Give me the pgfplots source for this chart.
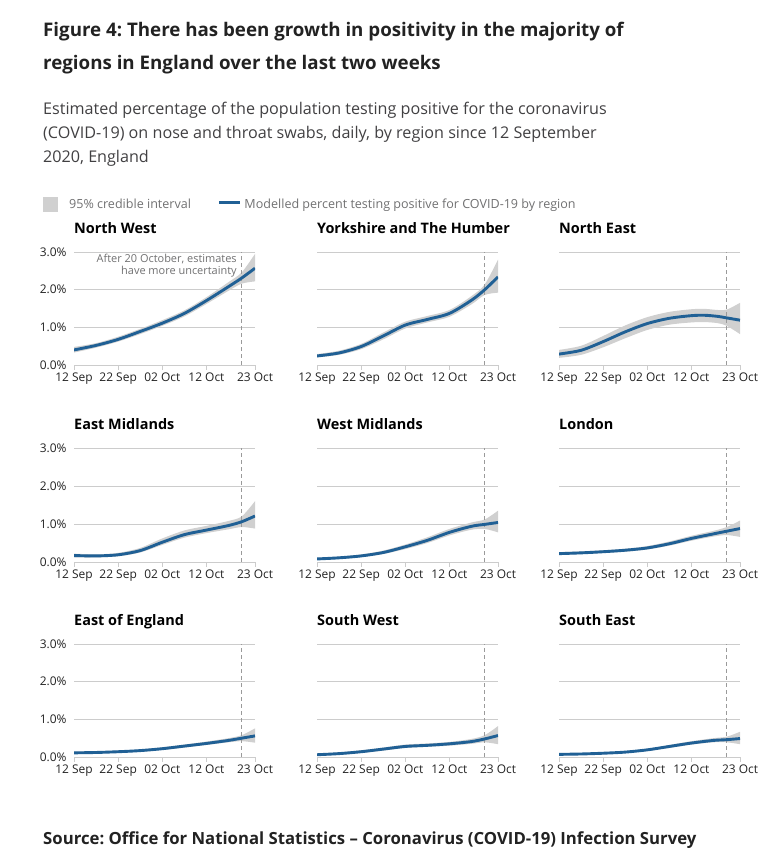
\documentclass[border=0pt]{standalone}
\usepackage{fontspec}
\setmainfont{Open Sans}
\usepackage{pgfplots}
\usepackage{pgfplotstable}
\usepgfplotslibrary{fillbetween}
\pgfplotsset{compat=1.18}
\frenchspacing
\definecolor{onsblue}{HTML}{206095}
\definecolor{bandgrey}{HTML}{D0D0D0}
\definecolor{gridgrey}{HTML}{CCCCCC}
\definecolor{dashgrey}{HTML}{9A9A9A}
\definecolor{titlec}{HTML}{222222}
\definecolor{subc}{HTML}{414042}
\definecolor{legc}{HTML}{707071}

\pgfplotstableread{
d y lo hi
0 0.40 0.33 0.48
5 0.52 0.46 0.58
10 0.68 0.62 0.75
15 0.89 0.82 0.96
20 1.11 1.04 1.19
25 1.37 1.29 1.45
30 1.71 1.62 1.80
35 2.08 1.97 2.20
38 2.31 2.16 2.46
41 2.57 2.22 2.95
}\tNW
\pgfplotstableread{
d y lo hi
0 0.24 0.20 0.29
5 0.32 0.27 0.38
10 0.49 0.42 0.56
15 0.77 0.68 0.86
20 1.06 0.97 1.15
25 1.21 1.13 1.30
30 1.37 1.28 1.46
35 1.72 1.61 1.83
38 2.00 1.86 2.14
41 2.34 1.92 2.80
}\tYH
\pgfplotstableread{
d y lo hi
0 0.29 0.19 0.40
5 0.39 0.27 0.51
10 0.62 0.47 0.77
15 0.88 0.71 1.05
20 1.10 0.93 1.27
25 1.24 1.07 1.41
30 1.31 1.13 1.48
33 1.32 1.14 1.49
36 1.29 1.11 1.46
38 1.25 1.04 1.47
41 1.19 0.82 1.65
}\tNE
\pgfplotstableread{
d y lo hi
0 0.17 0.12 0.22
5 0.16 0.12 0.20
10 0.19 0.15 0.24
15 0.30 0.25 0.37
20 0.52 0.45 0.62
25 0.72 0.64 0.83
30 0.84 0.76 0.95
35 0.96 0.86 1.08
38 1.06 0.92 1.20
41 1.21 0.88 1.60
}\tEM
\pgfplotstableread{
d y lo hi
0 0.08 0.06 0.11
5 0.11 0.08 0.14
10 0.16 0.13 0.20
15 0.25 0.21 0.30
20 0.40 0.34 0.46
25 0.57 0.50 0.65
30 0.78 0.70 0.87
35 0.94 0.85 1.04
38 0.99 0.87 1.12
41 1.04 0.78 1.35
}\tWM
\pgfplotstableread{
d y lo hi
0 0.22 0.19 0.26
5 0.24 0.21 0.28
10 0.27 0.24 0.31
15 0.31 0.27 0.35
20 0.37 0.33 0.42
25 0.48 0.43 0.54
30 0.62 0.56 0.69
35 0.74 0.67 0.82
38 0.81 0.71 0.92
41 0.88 0.66 1.09
}\tLO
\pgfplotstableread{
d y lo hi
0 0.11 0.09 0.14
5 0.12 0.10 0.15
10 0.14 0.12 0.17
15 0.17 0.14 0.20
20 0.22 0.19 0.26
25 0.29 0.25 0.33
30 0.36 0.32 0.41
35 0.44 0.39 0.50
38 0.50 0.42 0.58
41 0.56 0.38 0.76
}\tEE
\pgfplotstableread{
d y lo hi
0 0.06 0.04 0.09
5 0.09 0.06 0.12
10 0.14 0.11 0.18
15 0.21 0.17 0.25
20 0.28 0.24 0.33
25 0.31 0.27 0.36
30 0.35 0.30 0.40
35 0.41 0.35 0.48
38 0.48 0.39 0.58
41 0.57 0.34 0.82
}\tSW
\pgfplotstableread{
d y lo hi
0 0.07 0.05 0.09
5 0.08 0.06 0.10
10 0.10 0.08 0.12
15 0.13 0.11 0.16
20 0.19 0.16 0.22
25 0.28 0.24 0.32
30 0.37 0.33 0.42
35 0.44 0.39 0.50
38 0.46 0.39 0.54
41 0.49 0.34 0.67
}\tSE

\pgfplotsset{panel/.style={
  scale only axis, width=181bp, anchor=south west,
  xmin=0, xmax=41, ymin=0, ymax=3,
  axis lines*=left,
  y axis line style={draw=none},
  x axis line style={gridgrey, line width=0.8bp},
  xtick={0,10,20,30,41},
  xticklabels={12 Sep,22 Sep,02 Oct,12 Oct,23 Oct},
  ytick={0,1,2,3},
  ymajorgrids, grid style={gridgrey, line width=0.8bp},
  xtick style={gridgrey, line width=0.8bp},
  ytick style={draw=none},
  tick align=outside, major tick length=5bp,
  tick label style={font=\fontsize{12}{14}\selectfont, text=titlec},
  xticklabel style={yshift=1bp},
  yticklabel style={xshift=1bp},
  title style={at={(0,1)}, anchor=base west, yshift=13bp, inner sep=0pt,
    font=\fontsize{14.5}{17}\selectfont\bfseries, text=black},
}}

\newcommand{\panel}[6]{%
\begin{axis}[panel, at={(#1bp,#2bp)}, height=#3bp, title={#5}, #6]
\addplot[name path=hi, draw=none, smooth, forget plot] table[x=d,y=hi] {#4};
\addplot[name path=lo, draw=none, smooth, forget plot] table[x=d,y=lo] {#4};
\addplot[bandgrey, draw=none, forget plot] fill between[of=hi and lo];
\addplot[dashgrey, line width=0.8bp, dash pattern=on 4bp off 3bp, forget plot] coordinates {(38,0) (38,3)};
\addplot[onsblue, line width=2.9bp, smooth, forget plot] table[x=d,y=y] {#4};
\end{axis}}

\begin{document}
\begin{tikzpicture}
\path (0,0) rectangle (769bp,858bp);
\node[anchor=base west, inner sep=0pt, text=titlec, font=\fontsize{18.8}{23}\selectfont\bfseries] at (43bp,821bp) {Figure 4: There has been growth in positivity in the majority of};
\node[anchor=base west, inner sep=0pt, text=titlec, font=\fontsize{18.8}{23}\selectfont\bfseries] at (43bp,788bp) {regions in England over the last two weeks};
\node[anchor=base west, inner sep=0pt, text=subc, font=\fontsize{16.2}{19}\selectfont] at (43bp,743bp) {Estimated percentage of the population testing positive for the coronavirus};
\node[anchor=base west, inner sep=0pt, text=subc, font=\fontsize{16.2}{19}\selectfont] at (43bp,719bp) {(COVID-19) on nose and throat swabs, daily, by region since 12 September};
\node[anchor=base west, inner sep=0pt, text=subc, font=\fontsize{16.2}{19}\selectfont] at (43bp,695bp) {2020, England};
\node[anchor=base west, inner sep=0pt, text=titlec, font=\fontsize{16.8}{20}\selectfont\bfseries] at (43bp,14bp) {Source: Office for National Statistics -- Coronavirus (COVID-19) Infection Survey};

\begin{axis}[panel, at={(74bp,493bp)}, height=113bp, title={North West},
  yticklabels={0.0\%,1.0\%,2.0\%,3.0\%},
  legend style={at={(-0.1713,1.42)}, anchor=west, draw=none, fill=none,
    inner sep=0pt, legend columns=2,
    font=\fontsize{12.6}{15}\selectfont, text=legc,
    nodes={inner sep=0pt, anchor=west},
    /tikz/every even column/.append style={column sep=27bp}},
  legend cell align=left]
\addplot[name path=hi, draw=none, smooth, forget plot] table[x=d,y=hi] {\tNW};
\addplot[name path=lo, draw=none, smooth, forget plot] table[x=d,y=lo] {\tNW};
\addplot[bandgrey, draw=none, forget plot] fill between[of=hi and lo];
\addplot[dashgrey, line width=0.8bp, dash pattern=on 4bp off 3bp, forget plot] coordinates {(38,0) (38,3)};
\addplot[onsblue, line width=2.9bp, smooth, forget plot] table[x=d,y=y] {\tNW};
\node[anchor=north east, align=right, inner sep=0pt, text=legc, font=\fontsize{11}{12.5}\selectfont] at (axis cs:36.9,2.96) {After 20 October, estimates\\have more uncertainty};
\addlegendimage{legend image code/.code={\fill[bandgrey, draw=none] (0bp,-7.5bp) rectangle (15bp,7.5bp); \path[draw=none, fill=none] (0bp,0bp) -- (26bp,0bp);}}
\addlegendentry{95\% credible interval}
\addlegendimage{legend image code/.code={\draw[onsblue, line width=3bp] (0bp,2bp) -- (21bp,2bp); \path[draw=none, fill=none] (0bp,0bp) -- (25bp,0bp);}}
\addlegendentry{Modelled percent testing positive for COVID-19 by region}
\end{axis}

\panel{317}{493}{113}{\tYH}{Yorkshire and The Humber}{yticklabels={}}
\panel{559}{493}{113}{\tNE}{North East}{yticklabels={}}
\panel{74}{296}{114}{\tEM}{East Midlands}{yticklabels={0.0\%,1.0\%,2.0\%,3.0\%}}
\panel{317}{296}{114}{\tWM}{West Midlands}{yticklabels={}}
\panel{559}{296}{114}{\tLO}{London}{yticklabels={}}
\panel{74}{101}{113}{\tEE}{East of England}{yticklabels={0.0\%,1.0\%,2.0\%,3.0\%}}
\panel{317}{101}{113}{\tSW}{South West}{yticklabels={}}
\panel{559}{101}{113}{\tSE}{South East}{yticklabels={}}
\end{tikzpicture}
\end{document}
